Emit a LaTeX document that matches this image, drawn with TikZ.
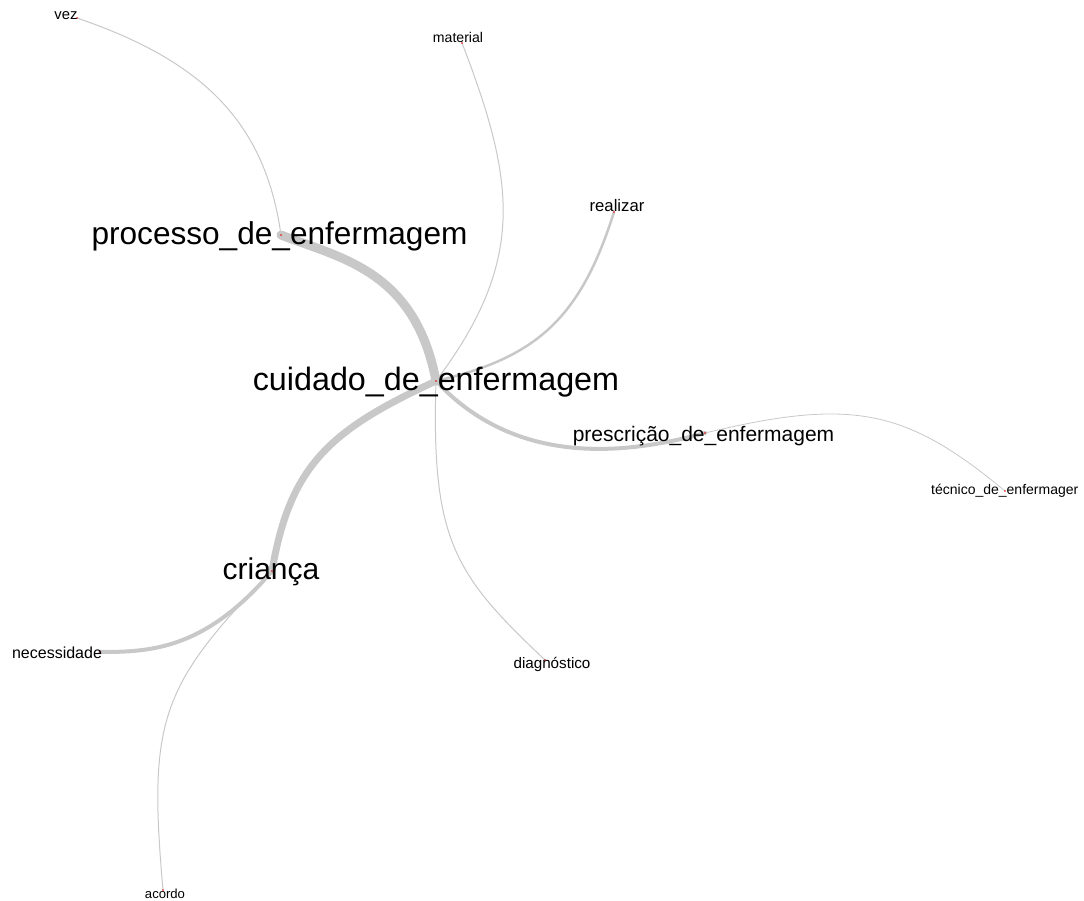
\documentclass[tikz,border=0pt]{standalone}
\usepackage{fontspec}
\setmainfont{Liberation Sans}
\definecolor{edgegray}{RGB}{200,200,200}
\definecolor{dotred}{RGB}{220,0,0}
\begin{document}
\begin{tikzpicture}[x=1pt,y=-1pt,
  edge/.style={draw=edgegray, line cap=round},
  lbl/.style={inner sep=0pt, anchor=base, text=black},
  vdot/.style={fill=dotred}]
\useasboundingbox (0,0) rectangle (1084,901);
% vertices
\coordinate (cuid) at (436,381);
\coordinate (proc) at (281,235);
\coordinate (cria) at (272,571);
\coordinate (pres) at (705,433);
\coordinate (tecn) at (1005,491);
\coordinate (real) at (614,212);
\coordinate (mate) at (462,43);
\coordinate (diag) at (545,660);
\coordinate (nece) at (100,652);
\coordinate (acor) at (163,890);
\coordinate (vezv) at (77,18);
% edges
\draw[edge, line width=9pt] (cuid) .. controls (415,270) and (340,258) .. (proc);
\draw[edge, line width=7pt] (cuid) .. controls (330,430) and (290,465) .. (cria);
\draw[edge, line width=2.5pt] (cuid) .. controls (535,358) and (580,320) .. (real);
\draw[edge, line width=1pt] (cuid) .. controls (526,261) and (516,183) .. (mate);
\draw[edge, line width=4pt] (cuid) .. controls (505,455) and (600,462) .. (pres);
\draw[edge, line width=1pt] (cuid) .. controls (431,541) and (455,575) .. (diag);
\draw[edge, line width=1pt] (proc) .. controls (265,120) and (200,60) .. (vezv);
\draw[edge, line width=4pt] (cria) .. controls (205,650) and (150,652) .. (nece);
\draw[edge, line width=1pt] (cria) .. controls (160,686) and (148,720) .. (acor);
\draw[edge, line width=0.8pt] (pres) .. controls (851,398) and (905,408) .. (tecn);
% vertex dots
\foreach \v in {cuid,proc,cria,pres,tecn,real,mate,diag,nece,acor,vezv}
  \fill[vdot] (\v) circle[radius=0.9pt];
% labels
\node[lbl, font=\fontsize{32.3}{34}\selectfont] (lcuid) at (436,390) {cuidado\_de\_enfermagem};
\node[lbl, font=\fontsize{31.6}{34}\selectfont] (lproc) at (279.5,245) {processo\_de\_enfermagem};
\node[lbl, font=\fontsize{30}{32}\selectfont] (lcria) at (271,579) {criança};
\node[lbl, font=\fontsize{21}{23}\selectfont] (lpres) at (703.5,441) {prescrição\_de\_enfermagem};
\node[lbl, anchor=base west, font=\fontsize{14}{16}\selectfont] (ltecn) at (931,494) {técnico\_de\_enfermager};
\node[lbl, font=\fontsize{16}{18}\selectfont] (lnece) at (57,658) {necessidade};
\node[lbl, font=\fontsize{15.2}{17}\selectfont] (ldiag) at (552,668) {diagnóstico};
\node[lbl, font=\fontsize{14.1}{16}\selectfont] (lmate) at (458,43) {material};
\node[lbl, font=\fontsize{16.7}{18}\selectfont] (lreal) at (617,212) {realizar};
\node[lbl, font=\fontsize{14.8}{16}\selectfont] (lvez) at (66,20) {vez};
\node[lbl, font=\fontsize{13.1}{15}\selectfont] (lacor) at (165,898) {acordo};
\end{tikzpicture}
\end{document}
